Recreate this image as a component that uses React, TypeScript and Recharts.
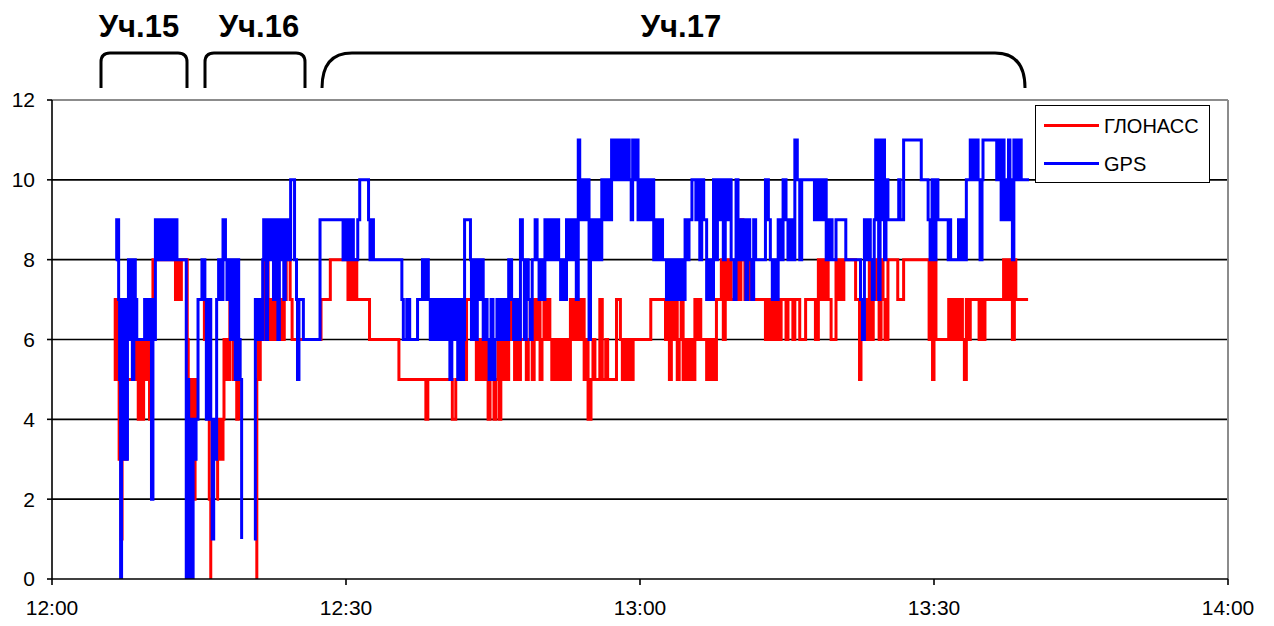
import React from 'react';
import { LineChart, Line, XAxis, YAxis, CartesianGrid, ReferenceLine } from 'recharts';

// minutes after 12:00, satellites in view
const glonassPoints: [number, number | null][] = [
  [6.3, 7], [6.45, 5], [6.6, 7], [6.75, 5], [6.85, 3], [7.0, 5], [7.05, 1], [7.15, 3], [7.3, 4], [7.45, 3], [7.6, 5],
  [8.5, 6], [8.65, 5], [8.8, 4], [8.95, 6], [9.1, 5], [9.2, 4], [9.35, 6], [9.5, 5], [9.65, 6], [9.8, 5], [9.95, 4], [10.1, 6],
  [10.3, 8], [12.6, 7], [12.8, 8], [12.95, 7], [13.2, 8], [13.8, 6], [13.9, 2], [14.0, 5], [14.1, 1], [14.2, 3], [14.3, 5],
  [14.45, 2], [14.6, 5], [14.75, 4], [15.0, null],
  [15.4, 7], [15.55, 6], [15.7, 7], [15.9, 6], [16.05, 2], [16.2, 0], [16.4, null],
  [16.8, 2], [16.9, 4], [17.0, 3], [17.15, 4], [17.3, 3], [17.45, 4], [17.55, 6], [17.7, 5], [17.85, 6], [18.0, 5], [18.15, 7],
  [18.3, 6], [18.5, 5], [18.7, 6], [18.85, 4], [19.0, 6], [19.1, 4], [19.3, null],
  [20.8, 0], [20.9, 5], [21.0, 6], [21.1, 5], [21.25, 7], [21.45, 6], [21.6, 8], [21.75, 6], [21.9, 8], [22.05, 6], [22.2, 7],
  [22.35, 6], [22.5, 7], [22.65, 6], [22.8, 7], [22.95, 6], [23.1, 7], [23.25, 6], [23.4, 7], [23.55, 6], [23.7, 7], [23.9, 8],
  [24.3, 7], [24.5, 6], [27.45, 7], [28.4, 8], [30.2, 7], [30.35, 8], [30.5, 7], [30.65, 8], [30.8, 7], [30.95, 8], [31.1, 7],
  [32.4, 6], [35.4, 5], [38.15, 4], [38.35, 5], [40.85, 4], [41.2, 5], [41.5, 6], [41.7, 5], [41.9, 6], [42.1, 5], [42.3, 7],
  [43.1, 6], [43.3, 5], [43.5, 6], [43.7, 5], [43.9, 6], [44.1, 5], [44.3, 6], [44.5, 4], [44.7, 5], [44.9, 6], [45.1, 4],
  [45.3, 5], [45.5, 6], [45.65, 4], [45.8, 6], [46.0, 5], [46.2, 6], [46.4, 5], [46.6, 7], [46.8, 6], [47.0, 7], [47.2, 5],
  [47.4, 6], [47.6, 5], [47.8, 6], [48.4, 5], [48.6, 6], [48.8, 7], [49.0, 5], [49.2, 7], [49.4, 6], [49.6, 7], [49.8, 5],
  [50.0, 6], [50.2, 7], [50.4, 6], [50.6, 7], [50.8, 6], [51.0, 5], [51.2, 6], [51.4, 5], [51.6, 6], [51.8, 5], [52.0, 6],
  [52.2, 5], [52.4, 6], [52.6, 5], [52.9, 7], [53.1, 6], [53.3, 7], [53.5, 6], [53.7, 7], [53.9, 6], [54.1, 7], [54.3, 5],
  [54.5, 6], [54.7, 4], [55.0, 5], [55.2, 6], [55.4, 5], [55.9, 7], [56.15, 5], [56.5, 6], [56.7, 5], [57.6, 7], [58.0, 6],
  [58.2, 5], [58.4, 6], [58.6, 5], [58.8, 6], [59.0, 5], [59.3, 6], [61.1, 7], [62.6, 6], [62.8, 7], [63.0, 5], [63.2, 7],
  [63.4, 6], [63.6, 7], [63.8, 5], [64.0, 6], [64.2, 7], [64.4, 5], [64.7, 6], [64.9, 5], [65.1, 6], [65.3, 5], [65.6, 7],
  [65.8, 6], [66.0, 7], [66.2, 6], [66.8, 5], [67.0, 6], [67.2, 5], [67.4, 6], [67.6, 5], [67.8, 7], [68.3, 8], [68.5, 6],
  [68.7, 8], [68.9, 7], [69.1, 8], [69.3, 7], [69.8, 8], [70.0, 7], [70.3, 9], [70.5, 8], [70.7, 7], [70.9, 8], [71.1, 7],
  [71.3, 8], [71.5, 7], [72.8, 6], [73.0, 7], [73.2, 6], [73.5, 7], [73.7, 6], [73.9, 7], [74.1, 6], [74.4, 7], [74.9, 6],
  [75.1, 7], [75.6, 6], [75.8, 7], [76.3, 6], [76.9, 7], [77.9, 6], [78.2, 8], [78.4, 7], [78.6, 8], [78.8, 7], [79.0, 8],
  [79.2, 7], [79.5, 6], [80.0, 8], [80.2, 7], [80.4, 8], [80.6, 7], [80.8, 8], [82.0, 7], [82.4, 5], [82.55, 7], [82.7, 6],
  [82.9, 7], [83.1, 6], [83.4, 8], [83.6, 6], [83.8, 8], [84.0, 7], [84.2, 8], [84.4, 6], [84.6, 8], [84.8, 7], [85.0, 6],
  [85.3, 8], [86.3, 7], [86.9, 8], [89.5, 6], [89.7, 8], [89.85, 5], [90.0, 8], [90.2, 6], [91.5, 7], [91.7, 6], [91.9, 7],
  [92.1, 6], [92.3, 7], [92.5, 6], [92.7, 7], [92.9, 6], [93.1, 5], [93.3, 7], [93.5, 6], [93.7, 7], [94.6, 6], [94.8, 7],
  [95.0, 6], [95.2, 7], [97.1, 8], [97.3, 7], [97.5, 8], [97.7, 7], [97.9, 8], [98.0, 6], [98.2, 8], [98.35, 7], [99.6, 7],
];

const gpsPoints: [number, number | null][] = [
  [6.5, 8], [6.6, 9], [6.8, 7], [6.9, 5], [7.0, 0], [7.1, 7], [7.2, 3], [7.3, 7], [7.4, 4], [7.5, 7], [7.6, 3], [7.7, 6],
  [7.8, 8], [7.95, 6], [8.05, 8], [8.2, 5], [8.35, 8], [8.5, 7], [8.65, 6], [9.45, 7], [9.6, 6], [9.7, 7], [9.85, 6], [10.0, 7],
  [10.15, 2], [10.3, 7], [10.45, 6], [10.55, 9], [10.7, 8], [10.85, 9], [11.0, 8], [11.15, 9], [11.3, 8], [11.45, 9], [11.6, 8],
  [11.75, 9], [11.9, 8], [12.05, 9], [12.2, 8], [12.35, 9], [12.5, 8], [12.65, 9], [12.75, 8], [13.7, 0], [13.85, 5], [13.95, 0],
  [14.1, 4], [14.25, 0], [14.4, 4], [14.55, 3], [14.7, 4], [14.9, 7], [15.3, 8], [15.6, 7], [15.75, 4], [16.0, 7], [16.2, 4],
  [16.35, 1], [16.5, 4], [16.65, 3], [16.8, 7], [17.0, 8], [17.2, 7], [17.45, 9], [17.7, 8], [17.85, 7], [18.0, 8], [18.2, 6],
  [18.5, 8], [18.7, 5], [18.9, 8], [19.05, 6], [19.2, 5], [19.35, 1], [19.5, null],
  [20.6, 1], [20.75, 7], [21.0, 6], [21.2, 7], [21.35, 6], [21.5, 8], [21.6, 9], [21.75, 8], [21.85, 6], [22.0, 9], [22.15, 8],
  [22.3, 9], [22.45, 8], [22.6, 7], [22.75, 9], [22.9, 8], [23.05, 6], [23.2, 9], [23.35, 8], [23.5, 9], [23.65, 7], [23.8, 9],
  [23.95, 8], [24.1, 9], [24.25, 8], [24.35, 10], [24.75, 8], [24.95, 7], [25.05, 5], [25.2, 7], [25.65, 6], [27.35, 9],
  [29.7, 8], [29.85, 9], [30.0, 8], [30.15, 9], [30.3, 8], [30.5, 9], [30.75, 8], [31.2, 9], [31.4, 10], [32.3, 9], [32.45, 8],
  [32.6, 9], [32.8, 8], [35.7, 7], [35.85, 6], [36.2, 7], [36.5, 6], [37.3, 7], [37.8, 8], [38.0, 7], [38.1, 8], [38.4, 7],
  [38.6, 6], [38.8, 7], [39.0, 6], [39.2, 7], [39.4, 6], [39.6, 7], [39.8, 6], [40.0, 7], [40.2, 6], [40.4, 7], [40.6, 5],
  [40.8, 7], [41.0, 6], [41.2, 7], [41.4, 5], [41.6, 7], [41.8, 5], [42.0, 6], [42.1, 9], [42.7, 8], [42.8, 6], [43.0, 8],
  [43.2, 6], [43.4, 8], [43.6, 7], [43.8, 8], [44.0, 6], [44.2, 7], [44.4, 6], [44.6, 5], [44.8, 7], [45.0, 5], [45.2, 6],
  [45.4, 7], [45.6, 6], [45.8, 7], [46.0, 6], [46.2, 7], [46.4, 6], [46.6, 8], [46.9, 7], [47.1, 6], [47.3, 7], [47.5, 6],
  [47.8, 9], [48.0, 8], [48.2, 6], [48.4, 8], [48.6, 7], [48.8, 6], [49.0, 8], [49.3, 9], [49.5, 8], [49.7, 7], [49.9, 8],
  [50.1, 7], [50.3, 9], [50.5, 8], [50.7, 9], [50.9, 8], [51.1, 9], [51.3, 8], [51.5, 9], [51.7, 8], [51.9, 7], [52.1, 8],
  [52.3, 7], [52.5, 9], [52.7, 8], [52.9, 9], [53.1, 8], [53.3, 9], [53.5, 7], [53.7, 11], [53.85, 10], [54.0, 9], [54.2, 10],
  [54.4, 9], [54.6, 10], [54.8, 6], [54.95, 9], [55.15, 8], [55.35, 9], [55.55, 8], [55.75, 9], [55.95, 8], [56.1, 10],
  [56.4, 9], [56.6, 10], [56.9, 9], [57.1, 11], [57.3, 10], [57.5, 11], [57.7, 10], [57.9, 11], [58.1, 10], [58.3, 11],
  [58.5, 10], [58.7, 11], [58.9, 10], [59.1, 9], [59.25, 11], [59.45, 10], [59.6, 11], [59.8, 9], [60.0, 10], [60.2, 9],
  [60.4, 10], [60.6, 9], [60.8, 10], [61.0, 9], [61.2, 10], [61.4, 8], [61.6, 9], [61.8, 8], [62.0, 9], [62.3, 8], [62.7, 7],
  [62.9, 8], [63.1, 7], [63.3, 8], [63.5, 7], [63.7, 8], [63.9, 7], [64.1, 8], [64.3, 7], [64.6, 9], [64.8, 8], [65.0, 9],
  [65.3, 10], [65.7, 9], [65.9, 10], [66.1, 8], [66.3, 10], [66.5, 9], [66.8, 7], [67.0, 8], [67.2, 7], [67.5, 10], [67.7, 8],
  [67.9, 10], [68.1, 9], [68.3, 10], [68.5, 8], [68.7, 10], [68.9, 9], [69.1, 10], [69.3, 8], [69.6, 7], [69.8, 10], [70.0, 8],
  [70.2, 9], [70.4, 8], [70.6, 9], [70.8, 7], [71.0, 9], [71.2, 8], [71.4, 7], [71.6, 9], [71.8, 8], [72.8, 10], [73.1, 9],
  [73.3, 8], [73.5, 7], [73.7, 8], [73.9, 7], [74.1, 9], [74.3, 8], [74.6, 10], [74.9, 9], [75.1, 8], [75.3, 9], [75.5, 8],
  [75.8, 11], [76.05, 10], [76.3, 8], [76.5, 10], [77.8, 9], [78.0, 10], [78.2, 9], [78.4, 10], [78.6, 9], [78.8, 10],
  [79.0, 8], [79.3, 9], [79.6, 8], [80.0, 9], [81.0, 8], [82.5, 7], [82.7, 6], [82.9, 9], [83.1, 8], [83.3, 9], [83.5, 8],
  [83.7, 7], [83.9, 9], [84.05, 11], [84.2, 10], [84.35, 7], [84.5, 11], [84.65, 9], [84.8, 11], [84.95, 8], [85.1, 10],
  [85.3, 9], [86.4, 10], [86.55, 9], [86.9, 11], [88.7, 10], [89.4, 9], [89.6, 8], [89.8, 10], [90.0, 8], [90.2, 10],
  [90.4, 9], [91.45, 8], [91.55, 9], [91.7, 8], [92.5, 9], [92.7, 8], [92.9, 9], [93.1, 8], [93.3, 10], [93.7, 11],
  [93.85, 10], [94.0, 11], [94.15, 10], [94.3, 11], [94.5, 10], [94.7, 8], [94.9, 10], [95.0, 11], [96.4, 10], [96.7, 11],
  [96.85, 9], [97.0, 11], [97.15, 9], [97.3, 10], [97.45, 9], [97.6, 11], [97.75, 9], [97.9, 10], [98.0, 8], [98.15, 11],
  [98.3, 10], [98.45, 11], [98.6, 10], [98.75, 11], [98.9, 10], [99.7, 10],
];

const xTicks = [0, 30, 60, 90, 120];
const xTickLabels = ['12:00', '12:30', '13:00', '13:30', '14:00'];
const yTicks = [0, 2, 4, 6, 8, 10, 12];
const sectionNames = ['Уч.15', 'Уч.16', 'Уч.17'];

const glonassData = glonassPoints.map(([t, v]) => ({ t, v }));
const gpsData = gpsPoints.map(([t, v]) => ({ t, v }));

const FONT = '"Liberation Sans", Arial, sans-serif';

function ChartLegend() {
  return (
    <div style={{ position: 'absolute', left: 1035, top: 105, width: 175, height: 78, boxSizing: 'border-box', border: '1.5px solid #000', background: '#fff', fontFamily: FONT, fontSize: 20, color: '#000' }}>
      <div style={{ position: 'absolute', left: 8, top: 18, width: 55, height: 3, background: '#ff0000' }} />
      <div style={{ position: 'absolute', left: 68, top: 8, lineHeight: '24px' }}>ГЛОНАСС</div>
      <div style={{ position: 'absolute', left: 8, top: 56, width: 55, height: 3, background: '#0000ff' }} />
      <div style={{ position: 'absolute', left: 68, top: 46, lineHeight: '24px' }}>GPS</div>
    </div>
  );
}

export default function App() {
  return (
    <div style={{ position: 'absolute', left: 0, top: 0, width: 1274, height: 626, background: '#fff', fontFamily: FONT }}>
      <LineChart width={1274} height={626} margin={{ top: 100, right: 46, bottom: 0, left: 0 }}>
        <CartesianGrid vertical={false} horizontalValues={[2, 4, 6, 8, 10]} stroke="#000" strokeWidth={1.6} />
        <XAxis
          type="number"
          dataKey="t"
          domain={[0, 120]}
          ticks={xTicks}
          tickFormatter={(v: number) => xTickLabels[xTicks.indexOf(v)]}
          height={47}
          tickSize={6}
          tickMargin={15}
          stroke="#000"
          strokeWidth={1.6}
          tick={{ fontSize: 21, fill: '#000', fontFamily: FONT }}
          allowDataOverflow
        />
        <YAxis
          type="number"
          domain={[0, 12]}
          ticks={yTicks}
          width={52}
          tickSize={5}
          tickMargin={12}
          stroke="#000"
          strokeWidth={1.6}
          tick={{ fontSize: 21, fill: '#000', fontFamily: FONT }}
          allowDataOverflow
        />
        <ReferenceLine y={12} stroke="#8c8c8c" strokeWidth={2} />
        <ReferenceLine x={120} stroke="#8c8c8c" strokeWidth={2} />
        <Line data={glonassData} dataKey="v" name="ГЛОНАСС" type="stepAfter" stroke="#ff0000" strokeWidth={3} dot={false} connectNulls={false} isAnimationActive={false} />
        <Line data={gpsData} dataKey="v" name="GPS" type="stepAfter" stroke="#0000ff" strokeWidth={3} dot={false} connectNulls={false} isAnimationActive={false} />
      </LineChart>
      <ChartLegend />
      <svg width={1274} height={100} style={{ position: 'absolute', left: 0, top: 0, pointerEvents: 'none' }}>
        <g fill="none" stroke="#000" strokeWidth={3}>
          <path d="M101,88 L101,62 Q101,53 110,53 L178,53 Q187,53 187,62 L187,88" />
          <path d="M205,88 L205,62 Q205,53 214,53 L296,53 Q305,53 305,62 L305,88" />
          <path d="M322,88 Q322,53 352,53 L995,53 Q1025,53 1025,88" />
        </g>
        <g fontFamily={FONT} fontWeight="bold" fontSize={31} textAnchor="middle" fill="#000">
          <text x={139} y={37}>{sectionNames[0]}</text>
          <text x={259} y={37}>{sectionNames[1]}</text>
          <text x={681} y={37}>{sectionNames[2]}</text>
        </g>
      </svg>
    </div>
  );
}
